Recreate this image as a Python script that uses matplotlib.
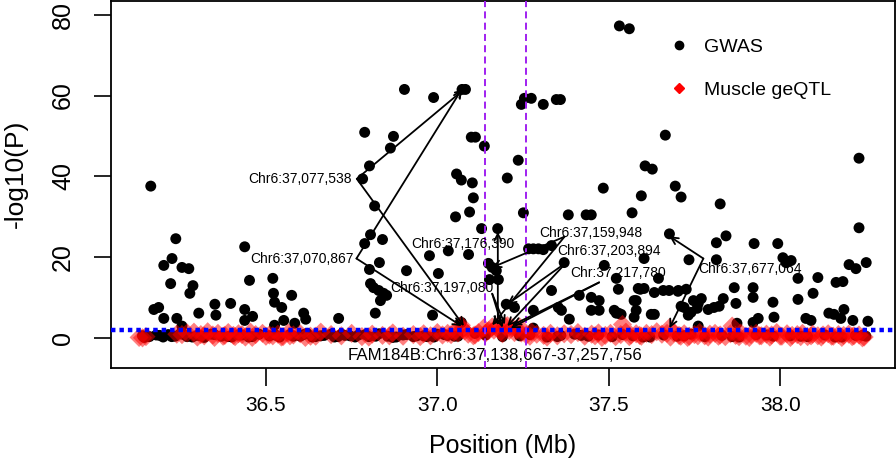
import numpy as np
import matplotlib.pyplot as plt
from matplotlib.lines import Line2D

plt.rcParams['font.family'] = ['Liberation Sans', 'DejaVu Sans']

# GWAS SNPs (position in Mb, -log10 P)
gwas_pos = [
    37.531, 37.560, 36.904, 36.989, 37.072, 37.082, 36.788, 36.872, 36.863, 36.802,
    36.782, 36.817, 36.805, 36.164, 36.237, 36.840, 37.099, 37.111, 37.137, 37.254,
    37.274, 37.245, 37.309, 37.347, 37.359, 37.665, 37.606, 37.627, 37.236, 37.204,
    37.056, 37.070, 37.102, 37.105, 37.094, 37.053, 37.251, 37.484, 37.595, 37.694,
    37.711, 37.568, 37.382, 37.434, 37.449, 37.129, 37.176, 37.677, 37.825, 38.230,
    38.230, 37.842, 36.788, 36.831, 36.802, 36.910, 36.805, 36.814, 36.829, 36.843,
    36.852, 36.834, 36.819, 36.977, 37.003, 37.032, 36.986, 36.226, 36.202, 36.255,
    36.275, 36.222, 36.287, 36.278, 36.438, 36.452, 36.520, 36.522, 36.525, 36.546,
    36.575, 36.351, 36.354, 36.397, 36.438, 36.438, 36.461, 36.304, 36.173, 36.187,
    36.202, 36.240, 36.255, 36.610, 36.616, 36.552, 36.712, 37.091, 37.149, 37.160,
    37.172, 37.178, 37.152, 37.266, 37.280, 37.295, 37.309, 37.333, 37.370, 37.487,
    37.522, 37.528, 37.586, 37.603, 37.603, 37.734, 37.333, 37.201, 37.225, 37.280,
    37.353, 37.362, 37.385, 37.414, 37.449, 37.472, 37.449, 37.472, 37.516, 37.528,
    37.580, 37.580, 37.633, 37.659, 37.703, 37.720, 37.761, 37.070, 37.280, 37.814,
    37.924, 37.993, 37.814, 38.008, 38.017, 38.032, 38.251, 38.201, 38.221, 37.645,
    38.052, 38.110, 38.163, 38.183, 37.592, 37.676, 37.702, 37.726, 37.866, 37.921,
    37.921, 38.096, 37.574, 37.747, 37.770, 37.834, 38.052, 37.979, 37.871, 37.711,
    37.758, 37.740, 37.732, 37.790, 37.807, 37.822, 37.522, 37.536, 37.574, 37.624,
    37.633, 38.142, 38.157, 38.186, 38.177, 37.982, 38.075, 38.090, 38.212, 38.256,
    37.936, 37.921, 37.874, 37.761, 36.525, 36.584,
]
gwas_logp = [
    77.2, 76.5, 61.5, 59.5, 61.5, 61.5, 50.9, 49.9, 47.0, 42.6,
    39.4, 32.7, 25.6, 37.6, 24.6, 24.4, 49.7, 49.7, 47.5, 59.3,
    59.3, 57.8, 57.8, 59.0, 59.0, 50.2, 42.6, 41.8, 44.0, 39.6,
    40.6, 39.1, 38.4, 34.7, 31.2, 30.0, 31.0, 37.1, 35.2, 37.6,
    34.9, 31.0, 30.5, 30.5, 30.5, 27.1, 27.1, 25.8, 33.2, 44.5,
    27.3, 25.3, 23.4, 18.7, 17.0, 16.7, 13.5, 12.5, 11.8, 11.1,
    10.6, 9.3, 6.2, 20.4, 16.0, 21.6, 5.7, 19.7, 18.0, 17.5,
    17.2, 13.5, 13.0, 11.1, 22.6, 14.3, 14.8, 11.1, 8.9, 7.6,
    10.6, 8.4, 5.7, 8.6, 7.1, 4.4, 5.4, 6.2, 7.1, 7.6,
    4.9, 4.9, 3.0, 6.2, 4.7, 4.4, 4.9, 20.7, 18.5, 17.5,
    16.7, 14.5, 14.5, 22.1, 22.1, 22.1, 21.9, 22.9, 18.7, 18.0,
    14.8, 12.1, 12.3, 12.3, 19.7, 19.4, 11.8, 8.4, 7.6, 6.9,
    7.6, 6.9, 4.7, 10.6, 10.1, 9.3, 6.9, 6.9, 6.9, 6.2,
    9.3, 6.9, 11.3, 11.8, 11.8, 7.6, 8.6, 3.9, 2.5, 23.6,
    23.4, 23.4, 19.4, 19.9, 18.7, 19.2, 18.7, 18.2, 17.2, 14.8,
    14.8, 15.0, 13.8, 14.0, 12.1, 11.8, 11.6, 12.1, 12.5, 12.5,
    10.1, 11.1, 9.3, 9.3, 9.8, 9.8, 9.6, 8.9, 8.6, 7.9,
    7.4, 6.4, 5.7, 7.1, 7.6, 7.9, 6.2, 5.9, 5.2, 5.9,
    5.9, 6.2, 5.9, 7.1, 4.9, 5.2, 4.9, 4.4, 4.4, 4.2,
    4.9, 3.9, 3.7, 3.0, 3.2, 3.7,
]
# GWAS SNPs sitting on the baseline
gwas_base_pos = [
    36.14, 36.16, 36.18, 36.20, 36.215, 36.235, 36.25, 36.27, 36.30, 36.32,
    36.35, 36.37, 36.40, 36.43, 36.46, 36.48, 36.51, 36.54, 36.57, 36.60,
    36.62, 36.645, 36.67, 36.70, 36.72, 36.745, 36.77, 36.80, 36.83, 36.855,
    36.88, 36.91, 36.94, 36.97, 37.00, 37.03, 37.06, 37.11, 37.14, 37.19,
    37.24, 37.27, 37.32, 37.36, 37.40, 37.44, 37.47, 37.51, 37.54, 37.57,
    37.62, 37.66, 37.70, 37.74, 37.78, 37.83, 37.88, 37.93, 37.98, 38.03,
    38.08, 38.13, 38.18, 38.22, 38.25,
    36.145, 36.19, 36.225, 36.26, 36.285, 36.31, 36.34, 36.39, 36.42, 36.45,
    36.53, 36.58, 36.61, 36.635, 36.66, 36.69, 36.71, 36.73, 36.76, 36.79,
    36.82, 36.87, 36.90, 36.93, 36.96, 36.99, 37.02, 37.05, 37.35, 37.42,
    37.60, 37.72, 37.86, 37.96, 38.06, 38.16, 38.24,
]
gwas_base_logp = [
    0.6, 0.4, 0.8, 0.3, 0.9, 0.5, 1.1, 0.4, 0.7, 0.2,
    0.9, 0.5, 0.3, 0.8, 0.4, 1.0, 0.6, 0.3, 0.9, 0.5,
    1.2, 0.4, 0.7, 0.3, 1.0, 0.6, 0.8, 0.4, 1.1, 0.5,
    0.3, 0.9, 0.6, 0.4, 1.0, 0.7, 0.5, 1.2, 0.8, 0.4,
    0.6, 0.9, 0.3, 0.7, 1.0, 0.5, 0.8, 0.4, 0.9, 0.6,
    0.3, 0.8, 0.5, 1.0, 0.4, 0.7, 0.3, 0.9, 0.5, 0.6,
    0.4, 0.8, 0.3, 0.7, 0.5,
    0.2, 0.7, 0.4, 0.9, 0.3, 0.6, 1.0, 0.4, 0.8, 0.3,
    0.7, 0.5, 0.9, 0.3, 0.6, 1.0, 0.4, 0.7, 0.3, 0.9,
    0.5, 0.2, 0.8, 0.4, 0.6, 0.3, 0.9, 0.5, 0.4, 0.7,
    0.3, 0.6, 0.4, 0.8, 0.5, 0.3, 0.7,
]

# Muscle geQTL SNPs
eqtl_pos = [
    36.13, 36.15, 36.24, 36.27, 36.29, 36.31, 36.33, 36.345, 36.36, 36.375,
    36.39, 36.405, 36.42, 36.44, 36.455, 36.47, 36.49, 36.52, 36.535, 36.55,
    36.565, 36.58, 36.60, 36.63, 36.66, 36.69, 36.72, 36.75, 36.78, 36.81,
    36.84, 36.87, 36.90, 36.93, 36.96, 36.98, 37.00, 37.015, 37.03, 37.05,
    37.07, 37.08, 37.09, 37.105, 37.12, 37.135, 37.15, 37.16, 37.176, 37.185,
    37.197, 37.204, 37.218, 37.23, 37.245, 37.26, 37.275, 37.29, 37.31, 37.33,
    37.35, 37.37, 37.39, 37.41, 37.43, 37.45, 37.47, 37.49, 37.505, 37.52,
    37.535, 37.55, 37.565, 37.58, 37.595, 37.61, 37.625, 37.64, 37.655, 37.677,
    37.69, 37.705, 37.72, 37.735, 37.75, 37.765, 37.78, 37.795, 37.81, 37.825,
    37.84, 37.855, 37.87, 37.885, 37.90, 37.915, 37.93, 37.945, 37.96, 37.975,
    37.99, 38.005, 38.02, 38.035, 38.05, 38.065, 38.08, 38.095, 38.11, 38.125,
    38.14, 38.155, 38.17, 38.185, 38.20, 38.215, 38.23, 38.245,
    36.14, 36.255, 36.30, 36.32, 36.35, 36.38, 36.41, 36.43, 36.46, 36.50,
    36.51, 36.545, 36.57, 36.615, 36.645, 36.80, 36.86, 36.95, 37.04, 37.06,
    37.075, 37.11, 37.14, 37.165, 37.19, 37.21, 37.225, 37.24, 37.27, 37.32,
    37.46, 37.48, 37.54, 37.56, 37.59, 37.67, 37.68, 37.71, 37.73, 37.76,
    37.79, 37.82, 37.86, 37.88, 37.91, 37.94, 37.97, 38.00, 38.03, 38.06,
    38.09, 38.12, 38.15, 38.18, 38.21, 38.24,
]
eqtl_logp = [
    0.2, 0.4, 1.0, 1.3, 1.5, 0.9, 1.6, 0.8, 1.2, 0.5,
    1.4, 0.7, 1.1, 0.3, 1.5, 0.9, 1.2, 0.6, 1.0, 0.4,
    1.3, 0.8, 1.1, 0.5, 1.5, 0.9, 0.6, 1.2, 0.4, 1.0,
    0.7, 1.3, 0.5, 0.9, 1.1, 0.6, 1.4, 0.8, 1.2, 1.5,
    3.2, 1.8, 1.0, 0.6, 1.4, 2.5, 1.9, 2.8, 3.0, 1.6,
    3.0, 3.1, 2.6, 2.2, 1.3, 0.8, 1.5, 1.0, 0.7, 1.2,
    0.6, 1.1, 0.9, 1.4, 0.5, 1.0, 1.3, 0.7, 1.2, 0.4,
    0.9, 1.5, 0.8, 1.1, 0.5, 1.2, 0.9, 1.6, 1.0, 2.6,
    1.3, 0.7, 1.1, 0.5, 0.9, 1.4, 0.6, 1.0, 1.2, 0.8,
    0.4, 1.1, 0.7, 1.3, 0.5, 0.9, 1.2, 0.6, 1.0, 0.8,
    1.4, 0.5, 1.1, 0.7, 0.9, 1.2, 0.4, 1.0, 0.6, 0.8,
    1.1, 0.5, 0.9, 0.7, 1.0, 0.6, 0.8, 0.3,
    0.1, 0.9, 0.3, 0.6, 0.2, 0.7, 0.4, 0.9, 0.2, 0.5,
    0.8, 0.3, 0.6, 0.2, 0.5, 0.3, 0.6, 0.4, 0.9, 1.3,
    2.2, 0.8, 1.2, 2.0, 1.1, 1.9, 1.4, 2.8, 0.5, 0.3,
    0.6, 0.2, 3.4, 0.4, 0.7, 1.2, 0.3, 0.5, 0.2, 0.6,
    0.3, 0.5, 3.0, 0.4, 0.2, 0.6, 0.3, 0.5, 0.2, 0.4,
    0.6, 0.3, 0.5, 0.2, 0.4, 0.1,
]

gene_start, gene_end = 37.138667, 37.257756
gene_label = "FAM184B:Chr6:37,138,667-37,257,756"
gene_label_x = 37.168
threshold = 2.0

# labelled SNPs: text, text position, alignment, arrow start, arrow targets
snp_labels = ["Chr6:37,077,538", "Chr6:37,070,867", "Chr6:37,176,390", "Chr6:37,197,080",
              "Chr6:37,159,948", "Chr6:37,203,894", "Chr:37,217,780", "Chr6:37,677,064"]
label_xy = [(36.750, 39.4), (36.756, 19.7), (37.073, 23.4), (37.012, 12.3),
            (37.449, 26.1), (37.502, 21.6), (37.528, 16.2), (37.761, 17.0)]
label_ha = ['right', 'right', 'center', 'center', 'center', 'center', 'center', 'left']
arrow_from = [(36.765, 39.4), (36.764, 19.7), (37.1764, 19.0), (37.16, 11.0),
              (37.371, 25.1), (37.376, 18.7), (37.472, 13.8), (37.776, 19.7)]
arrow_to = [[(37.0775, 61.5), (37.0775, 3.0)],
            [(37.0709, 61.5), (37.0709, 3.0)],
            [(37.1764, 26.3), (37.1764, 3.2)],
            [(37.197, 3.4), (37.190, 2.6)],
            [(37.160, 17.5), (37.160, 3.2)],
            [(37.204, 8.4), (37.204, 3.0)],
            [(37.218, 3.2), (37.214, 2.5)],
            [(37.677, 25.2), (37.677, 2.5)]]

fig = plt.figure(figsize=(8.96, 4.63), dpi=100)
ax = fig.add_axes([111 / 896, 95 / 463, 784 / 896, 367 / 463])

ax.scatter(gwas_pos + gwas_base_pos, gwas_logp + gwas_base_logp, s=62, color='black',
           edgecolors='none', zorder=2)
ax.scatter(eqtl_pos, eqtl_logp, s=95, marker='D', color='red', alpha=0.5,
           edgecolors='none', zorder=3)

ax.axhline(threshold, color='#0000ff', lw=3.2, ls=(0, (1.0, 0.9)), zorder=4)
for gx in (gene_start, gene_end):
    ax.axvline(gx, color='#a020f0', lw=1.4, ls=(0, (3.6, 2.2)), zorder=4)

ax.text(gene_label_x, -4.3, gene_label, ha='center', va='center', fontsize=12.2)

for lab, (tx, ty), ha, start, targets in zip(snp_labels, label_xy, label_ha, arrow_from, arrow_to):
    ax.text(tx, ty, lab, ha=ha, va='center', fontsize=10, zorder=6)
    for tgt in targets:
        ax.annotate('', xy=tgt, xytext=start,
                    arrowprops=dict(arrowstyle='->,head_length=0.5,head_width=0.25',
                                    color='black', lw=1.3, shrinkA=0, shrinkB=0),
                    zorder=5)

ax.set_xlim(36.048, 38.335)
ax.set_ylim(-7.36, 83.36)
ax.set_xticks([36.5, 37.0, 37.5, 38.0])
ax.set_xticklabels(['36.5', '37.0', '37.5', '38.0'])
ax.set_yticks([0, 20, 40, 60, 80])
ax.tick_params(axis='x', length=13, width=1.2, labelsize=15, pad=7)
ax.tick_params(axis='y', length=12, width=1.2, labelsize=18, pad=14)
for t in ax.get_yticklabels():
    t.set_rotation(90)
    t.set_va('center')
for sp in ax.spines.values():
    sp.set_linewidth(1.3)

ax.set_xlabel('Position (Mb)', fontsize=18, labelpad=14)
ax.set_ylabel('-log10(P)', fontsize=19)
ax.yaxis.set_label_coords(-0.106, 0.53)

handles = [Line2D([], [], marker='o', color='black', ls='none', markersize=6),
           Line2D([], [], marker='D', color='red', ls='none', markersize=5)]
ax.legend(handles, ['GWAS', 'Muscle geQTL'], loc='upper left', bbox_to_anchor=(0.712, 0.899),
          frameon=False, fontsize=14, handlelength=1.0, handletextpad=0.8,
          labelspacing=1.3, borderpad=0, borderaxespad=0)

plt.savefig('out.png', dpi=100)
